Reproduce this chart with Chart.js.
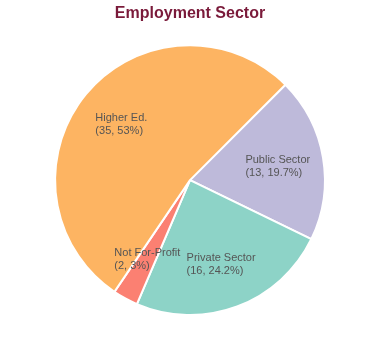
<!DOCTYPE html>
<html>
<head>
<meta charset="utf-8">
<script src="https://cdn.jsdelivr.net/npm/chart.js@4"></script>
<style>
  html, body { margin: 0; padding: 0; background: #fff; }
  #wrap { width: 380px; height: 360px; }
</style>
</head>
<body>
<div id="wrap"><canvas id="pie"></canvas></div>
<script>
// data, clockwise from upper right
const sectors = ['Public Sector', 'Private Sector', 'Not For-Profit', 'Higher Ed.'];
const counts = [13, 16, 2, 35];
const pctLabels = ['19.7%', '24.2%', '3%', '53%'];
const colors = ['#bebada', '#8dd3c7', '#fb8072', '#fdb462'];

// draw "name (n, pct)" inside each slice
const sliceLabels = {
  id: 'sliceLabels',
  afterDatasetsDraw(chart) {
    const ctx = chart.ctx;
    const meta = chart.getDatasetMeta(0);
    ctx.save();
    ctx.font = '11px Arial, "Liberation Sans", sans-serif';
    ctx.fillStyle = '#555555';
    ctx.textBaseline = 'middle';
    ctx.textAlign = 'left';
    meta.data.forEach((arc, i) => {
      const p = arc.getProps(['x', 'y', 'startAngle', 'endAngle', 'outerRadius'], true);
      const mid = (p.startAngle + p.endAngle) / 2;
      const r = p.outerRadius * 0.66;
      const cx = p.x + Math.cos(mid) * r;
      const cy = p.y + Math.sin(mid) * r;
      const lines = [sectors[i], '(' + counts[i] + ', ' + pctLabels[i] + ')'];
      const w = Math.max(...lines.map(l => ctx.measureText(l).width));
      const lh = 13;
      lines.forEach((l, k) => {
        ctx.fillText(l, cx - w / 2, cy + 1 + (k - (lines.length - 1) / 2) * lh);
      });
    });
    ctx.restore();
  }
};

new Chart(document.getElementById('pie'), {
  type: 'pie',
  data: {
    labels: sectors,
    datasets: [{
      data: counts,
      backgroundColor: colors,
      borderColor: '#ffffff',
      borderWidth: 2
    }]
  },
  options: {
    responsive: true,
    maintainAspectRatio: false,
    animation: false,
    rotation: 45,
    layout: { padding: { top: 0, bottom: 44, left: 0, right: 0 } },
    plugins: {
      legend: { display: false },
      tooltip: { enabled: false },
      title: {
        display: true,
        text: 'Employment Sector',
        color: '#7a1a3a',
        font: { family: 'Arial, "Liberation Sans", sans-serif', size: 16, weight: 'bold' },
        padding: { top: 4, bottom: 21 }
      }
    }
  },
  plugins: [sliceLabels]
});
</script>
</body>
</html>
